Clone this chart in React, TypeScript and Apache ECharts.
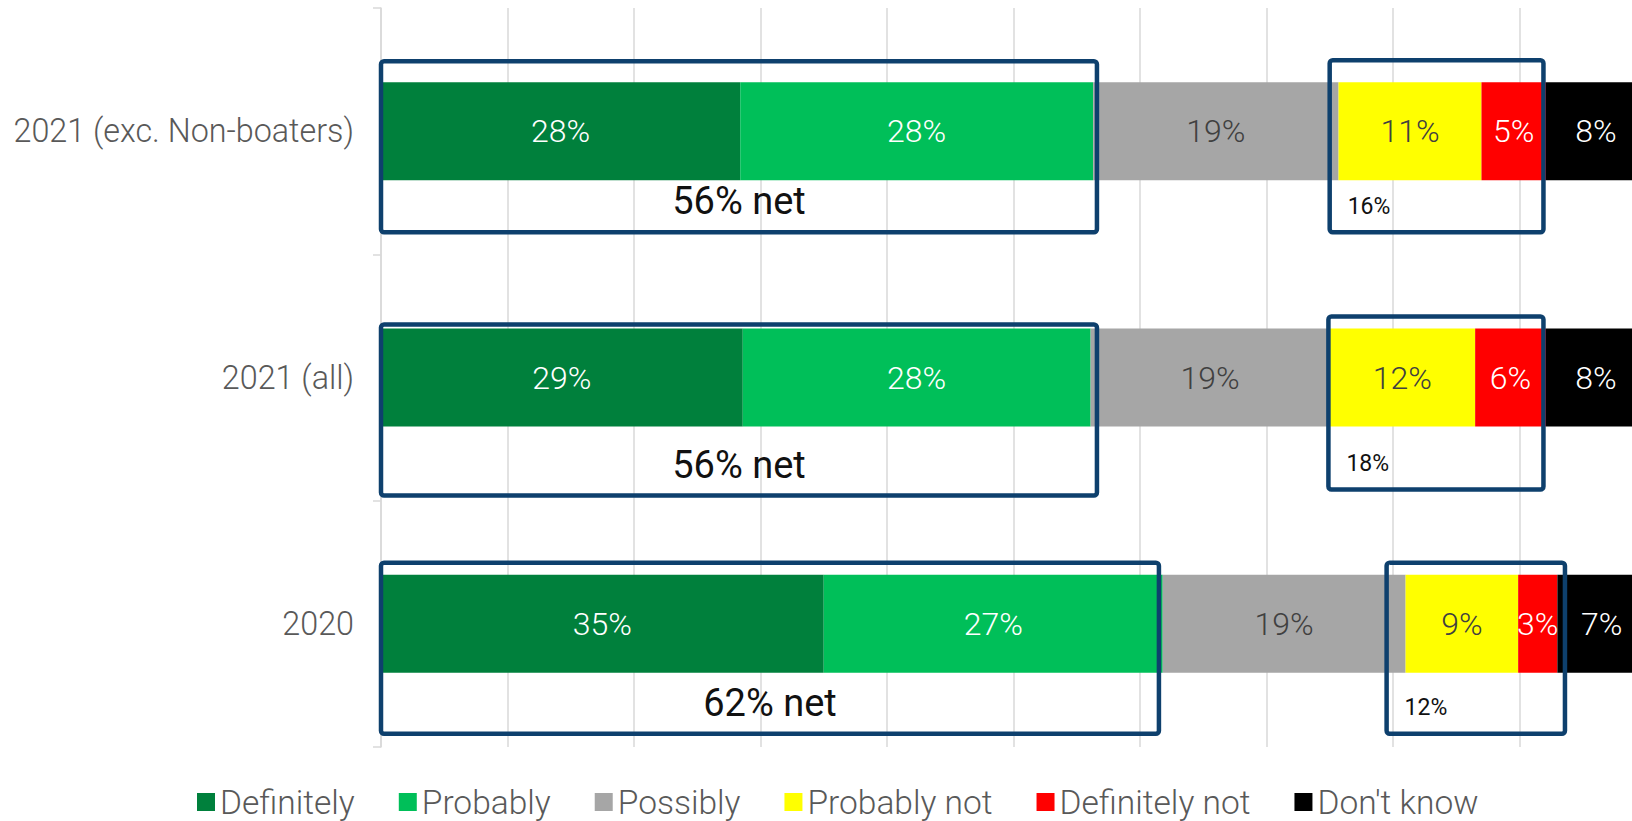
import React, { useEffect, useRef } from "react";
import * as echarts from "echarts";

// ---------- data ----------
const categories = ["2021 (exc. Non-boaters)", "2021 (all)", "2020"];
const seriesNames = ["Definitely", "Probably", "Possibly", "Probably not", "Definitely not", "Don't know"];
const definitely = [28.4, 28.6, 35.0];
const probably = [27.9, 27.5, 26.8];
const possibly = [19.4, 18.9, 19.2];
const probablyNot = [11.3, 11.5, 8.9];
const definitelyNot = [5.1, 5.6, 3.1];
const dontKnow = [7.9, 7.9, 7.0];

// annotation boxes (value-axis start / end) and their texts
const netBoxes = [[0, 56.6], [0, 56.6], [0, 61.5]];
const netLabels = ["56% net", "56% net", "62% net"];
const rejectBoxes = [[75.0, 91.9], [74.9, 91.9], [79.5, 93.6]];
const rejectLabels = ["16%", "18%", "12%"];

// visible part of the value axis (the chart is cut at the right edge)
const AXIS_MAX_VISIBLE = 98.9;

// ---------- layout / style ----------
const COLORS = ["#00803C", "#00BF59", "#A6A6A6", "#FFFF00", "#FF0000", "#000000"];
const LABEL_COLORS = ["#FFFFFF", "#FFFFFF", "#404040", "#404040", "#FFFFFF", "#FFFFFF"];
// vertical offsets of the boxes from the row centre: [net, reject]
const BOX_TOP = [[-70, -71], [-53, -61], [-61, -61]];
const BOX_BOTTOM = [[101, 101], [118, 112], [110, 110]];
const FONT = "Roboto";

const seriesValues = [definitely, probably, possibly, probablyNot, definitelyNot, dontKnow];

export default function App() {
  const ref = useRef<HTMLDivElement>(null);

  useEffect(() => {
    const chart = echarts.init(ref.current as HTMLDivElement, null, { renderer: "svg" });

    const barSeries = seriesNames.map((name, i) => ({
      name,
      type: "bar",
      stack: "total",
      barWidth: 98,
      clip: false,
      data: seriesValues[i],
      itemStyle: { color: COLORS[i] },
      label: {
        show: true,
        position: "inside",
        formatter: (p: any) => Math.round(p.value) + "%",
        color: LABEL_COLORS[i],
        fontFamily: FONT,
        fontSize: 32,
        fontWeight: 300,
      },
      z: 2,
    }));

    const boxData: number[][] = [];
    categories.forEach((_, r) => {
      boxData.push([netBoxes[r][0], netBoxes[r][1], r, 0]);
      boxData.push([rejectBoxes[r][0], rejectBoxes[r][1], r, 1]);
    });

    const boxSeries = {
      type: "custom",
      name: "boxes",
      data: boxData,
      encode: { x: [0, 1], y: 2 },
      z: 10,
      silent: true,
      clip: false,
      renderItem: (params: any, api: any) => {
        const s = api.value(0);
        const e = api.value(1);
        const row = api.value(2);
        const kind = api.value(3);
        const p0 = api.coord([s, row]);
        const p1 = api.coord([e, row]);
        const cy = p0[1];
        const top = cy + BOX_TOP[row][kind];
        const bottom = cy + BOX_BOTTOM[row][kind];
        const isNet = kind === 0;
        const text = isNet ? netLabels[row] : rejectLabels[row];
        return {
          type: "group",
          children: [
            {
              type: "rect",
              shape: { x: p0[0], y: top, width: p1[0] - p0[0], height: bottom - top, r: 3 },
              style: { fill: "none", stroke: "#0E406D", lineWidth: 4.5 },
            },
            {
              type: "text",
              style: {
                text,
                x: isNet ? (p0[0] + p1[0]) / 2 : p0[0] + 18,
                y: isNet ? bottom - 31 : bottom - 26,
                fill: "#111111",
                font: isNet ? `38px ${FONT}` : `23px ${FONT}`,
                align: isNet ? "center" : "left",
                textAlign: isNet ? "center" : "left",
                verticalAlign: "middle",
                textVerticalAlign: "middle",
              },
            },
          ],
        };
      },
    };

    chart.setOption({
      animation: false,
      backgroundColor: "#ffffff",
      grid: { left: 381, right: 0, top: 8, bottom: 74, containLabel: false },
      xAxis: {
        type: "value",
        min: 0,
        max: AXIS_MAX_VISIBLE,
        interval: 10,
        axisLine: { show: false },
        axisTick: { show: false },
        axisLabel: { show: false },
        splitLine: { show: true, showMaxLine: false, lineStyle: { color: "#D9D9D9", width: 1.5 } },
      },
      yAxis: {
        type: "category",
        inverse: true,
        data: categories,
        axisLine: { show: true, lineStyle: { color: "#D9D9D9", width: 1.5 } },
        axisTick: { show: true, length: 8, lineStyle: { color: "#D9D9D9", width: 1.5 } },
        axisLabel: { color: "#595959", fontFamily: FONT, fontSize: 32.3, fontWeight: 300, margin: 27 },
      },
      legend: {
        data: seriesNames,
        icon: "rect",
        itemWidth: 18,
        itemHeight: 18,
        itemGap: 44,
        left: 197,
        top: 785,
        padding: 0,
        selectedMode: false,
        textStyle: { color: "#595959", fontFamily: FONT, fontSize: 33.5, fontWeight: 300 },
      },
      series: [...barSeries, boxSeries],
    });

    return () => chart.dispose();
  }, []);

  return (
    <div
      ref={ref}
      style={{ position: "fixed", left: 0, top: 0, width: 1632, height: 821, background: "#fff" }}
    />
  );
}
